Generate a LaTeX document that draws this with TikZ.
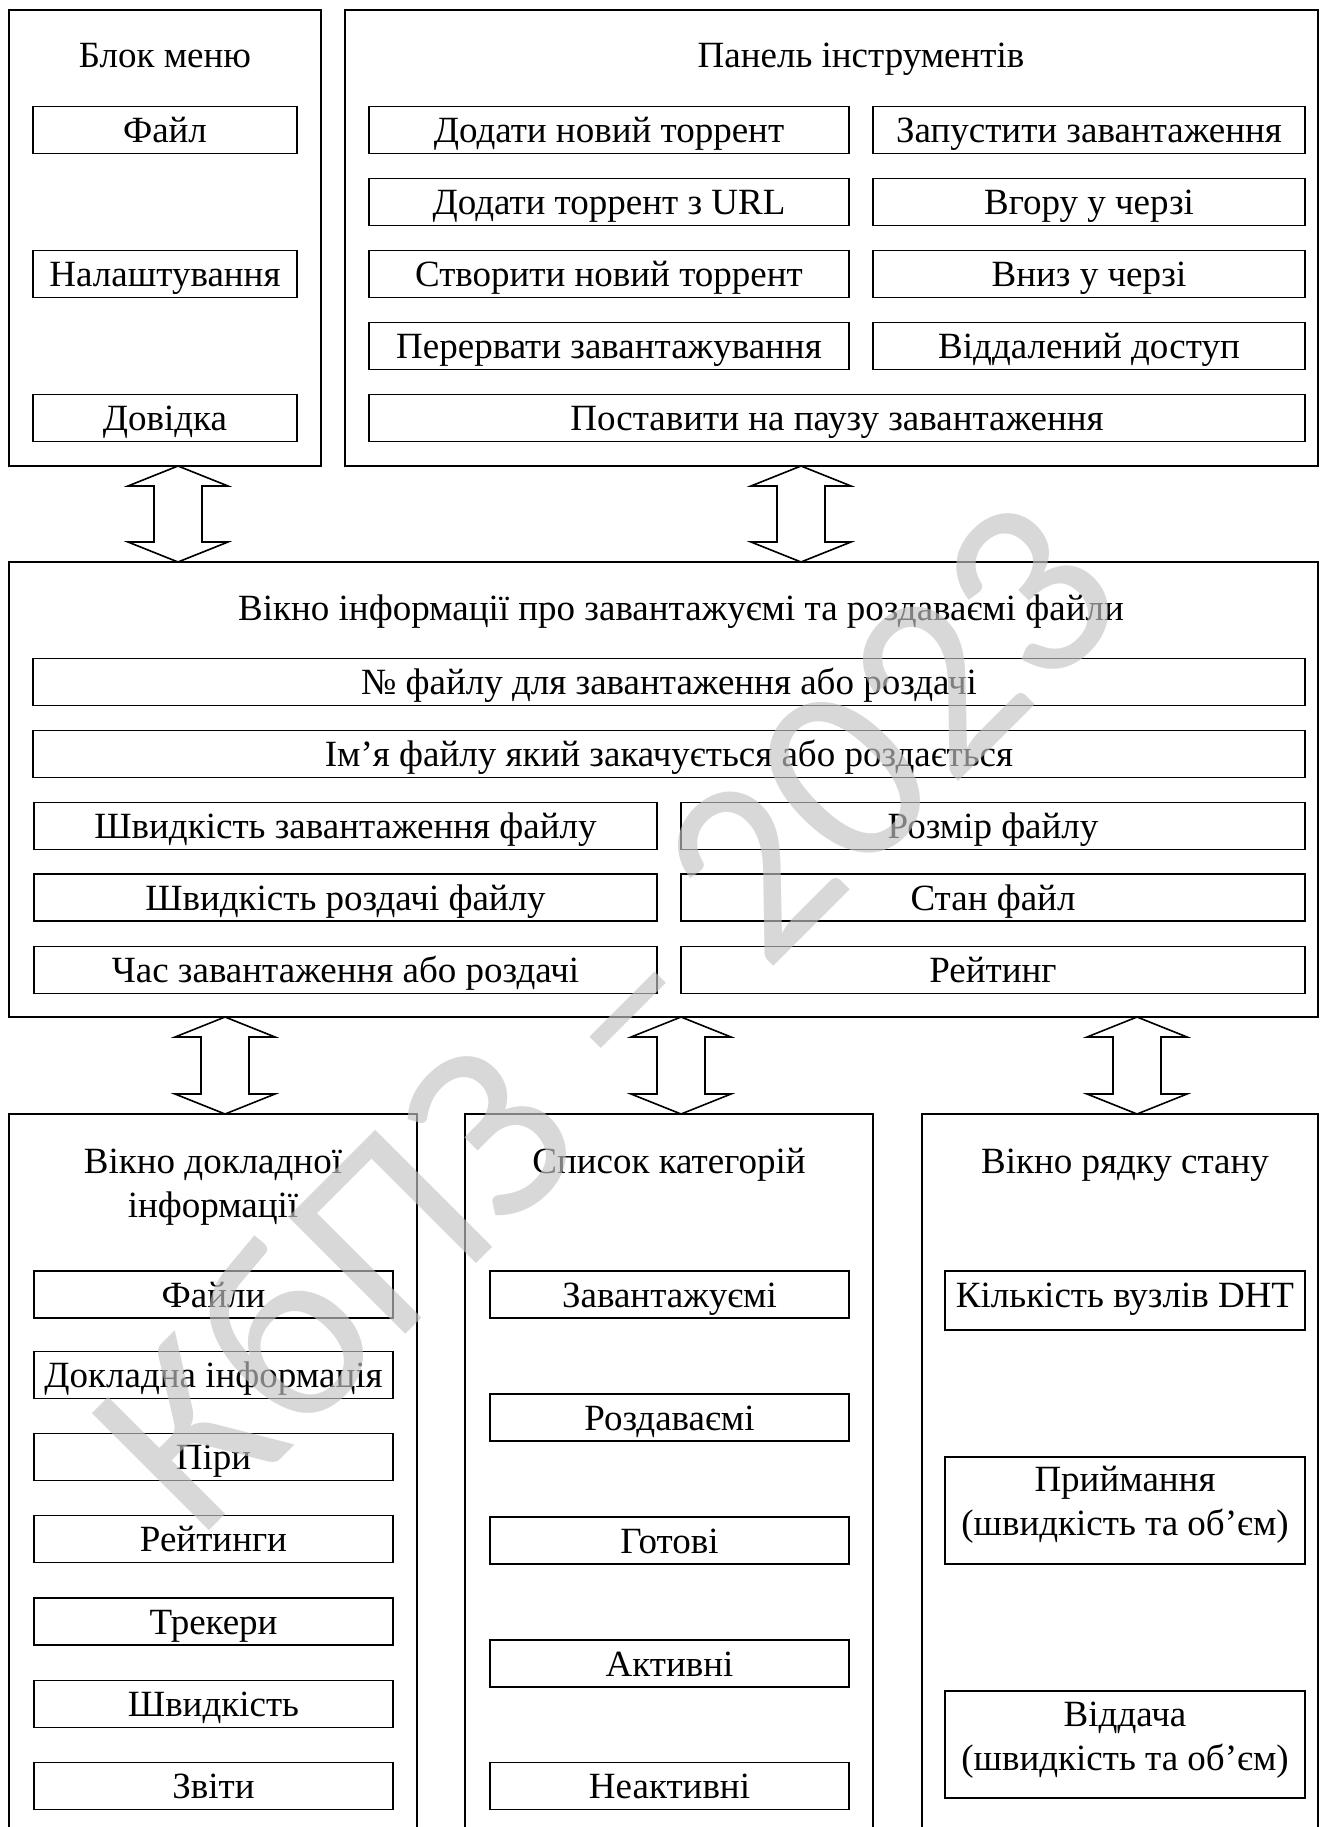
\documentclass[tikz,border=0pt]{standalone}
\usepackage{fontspec}
\setmainfont{Liberation Serif}
\newfontfamily\stampfont{Carlito}
\usetikzlibrary{calc}

% hollow double-headed arrow between two panels, at the x of a given coordinate
\newcommand\twowayarrow[3]{%
  \draw[twoway] (#1 |- #2.south) -- ++(50,20) -- ++(-26,0)
    -- ($(#1 |- #3.north)+(24,-20)$) -- ++(26,0) -- (#1 |- #3.north)
    -- ++(-50,-20) -- ++(26,0) -- ($(#1 |- #2.south)+(-24,20)$)
    -- ++(-26,0) -- cycle;}

\begin{document}
\begin{tikzpicture}[x=1pt,y=-1pt,
  every node/.style={font=\fontsize{37}{44}\selectfont, inner sep=0pt, outer sep=0pt},
  frame/.style={draw, line width=1.6pt},
  cell/.style={draw, line width=1.6pt, text height=25pt, text depth=0pt, minimum height=47},
  boxonly/.style={draw, line width=1.6pt},
  twoway/.style={draw, line width=1.6pt, fill=white, line join=miter},
  stamp/.style={font=\stampfont\fontsize{258}{258}\selectfont, text=black!23, text opacity=0.65}]

\fill[white] (0,0) rectangle (1320,1827);
\useasboundingbox (0,0) rectangle (1320,1827);

% ---------- menu block ----------
\node[frame, minimum width=312, minimum height=456] (menu) at (165,238) {};
\node[anchor=base] (menuTitle) at (165,68) {Блок меню};
\node[cell, minimum width=264] (mFile) at (165,130) {Файл};
\node[cell, minimum width=264] (mSettings) at (165,274) {Налаштування};
\node[cell, minimum width=264] (mHelp) at (165,418) {Довідка};

% ---------- toolbar ----------
\node[frame, minimum width=973, minimum height=456] (tools) at (831.5,238) {};
\node[anchor=base] (toolsTitle) at (861,68) {Панель інструментів};
\node[cell, minimum width=480] (tAdd) at (609,130) {Додати новий торрент};
\node[cell, minimum width=480] (tUrl) at (609,202) {Додати торрент з URL};
\node[cell, minimum width=480] (tCreate) at (609,274) {Створити новий торрент};
\node[cell, minimum width=480] (tAbort) at (609,346) {Перервати завантажування};
\node[cell, minimum width=432] (tStart) at (1089,130) {Запустити завантаження};
\node[cell, minimum width=432] (tUp) at (1089,202) {Вгору у черзі};
\node[cell, minimum width=432] (tDown) at (1089,274) {Вниз у черзі};
\node[cell, minimum width=432] (tRemote) at (1089,346) {Віддалений доступ};
\node[cell, minimum width=936] (tPause) at (837,418) {Поставити на паузу завантаження};

% ---------- main information window ----------
\node[frame, minimum width=1309, minimum height=455] (main) at (663.5,789.5) {};
\node[anchor=base] (mainTitle) at (681,620) {Вікно інформації про завантажуємі та роздаваємі файли};
\node[cell, minimum width=1272] (iNum) at (669,682) {№ файлу для завантаження або роздачі};
\node[cell, minimum width=1272] (iName) at (669,754) {Ім’я файлу який закачується або роздається};
\node[cell, minimum width=623] (iDown) at (345.5,826) {Швидкість завантаження файлу};
\node[cell, minimum width=623] (iUp) at (345.5,897.5) {Швидкість роздачі файлу};
\node[cell, minimum width=623] (iTime) at (345.5,970) {Час завантаження або роздачі};
\node[cell, minimum width=624] (iSize) at (993,826) {Розмір файлу};
\node[cell, minimum width=624] (iState) at (993,897.5) {Стан файл};
\node[cell, minimum width=624] (iRate) at (993,970) {Рейтинг};

% ---------- lower windows (open at the bottom edge) ----------
\node[minimum width=408, minimum height=713] (detail) at (213,1470.5) {};
\node[minimum width=408, minimum height=713] (cats) at (669,1470.5) {};
\node[minimum width=396, minimum height=713] (status) at (1120,1470.5) {};
\foreach \p in {detail,cats,status}
  \draw[line width=1.6pt] (\p.south west) -- (\p.north west) -- (\p.north east) -- (\p.south east);

\node[align=center] (detailTitle) at (213,1187) {Вікно докладної\\інформації};
\node[anchor=base] (catsTitle) at (669,1173) {Список категорій};
\node[anchor=base] (statusTitle) at (1125,1173) {Вікно рядку стану};

\node[cell, minimum width=359] (dFiles) at (213.5,1294.5) {Файли};
\node[cell, minimum width=359] (dInfo) at (213.5,1375) {Докладна інформація};
\node[cell, minimum width=359] (dPeers) at (213.5,1457) {Піри};
\node[cell, minimum width=359] (dRatings) at (213.5,1539) {Рейтинги};
\node[cell, minimum width=359] (dTrackers) at (213.5,1621.5) {Трекери};
\node[cell, minimum width=359] (dSpeed) at (213.5,1704) {Швидкість};
\node[cell, minimum width=359] (dReports) at (213.5,1786) {Звіти};

\node[cell, minimum width=359] (cLoading) at (669.5,1294.5) {Завантажуємі};
\node[cell, minimum width=359] (cSeeding) at (669.5,1417.5) {Роздаваємі};
\node[cell, minimum width=359] (cDone) at (669.5,1540.5) {Готові};
\node[cell, minimum width=359] (cActive) at (669.5,1663.5) {Активні};
\node[cell, minimum width=359] (cIdle) at (669.5,1786) {Неактивні};

\node[cell, minimum width=360, minimum height=59, text depth=12pt] (sDht) at (1125,1300.5) {Кількість вузлів DHT};
\node[boxonly, minimum width=360, minimum height=107] (sRecv) at (1125,1510.5) {};
\node[align=center] (sRecvText) at (1125,1505) {Приймання\\(швидкість та об’єм)};
\node[boxonly, minimum width=360, minimum height=107] (sSend) at (1125,1744.5) {};
\node[align=center] (sSendText) at (1125,1740) {Віддача\\(швидкість та об’єм)};

% ---------- links between windows ----------
\coordinate (a1) at (178,0);
\coordinate (a2) at (801,0);
\coordinate (b1) at (225,0);
\coordinate (b2) at (681,0);
\coordinate (b3) at (1137,0);
\twowayarrow{a1}{menu}{main}
\twowayarrow{a2}{tools}{main}
\twowayarrow{b1}{main}{detail}
\twowayarrow{b2}{main}{cats}
\twowayarrow{b3}{main}{status}

% ---------- watermark ----------
\node[stamp, rotate=45] (stamp) at (605,1012) {КбПЗ – 2023};
\end{tikzpicture}
\end{document}
